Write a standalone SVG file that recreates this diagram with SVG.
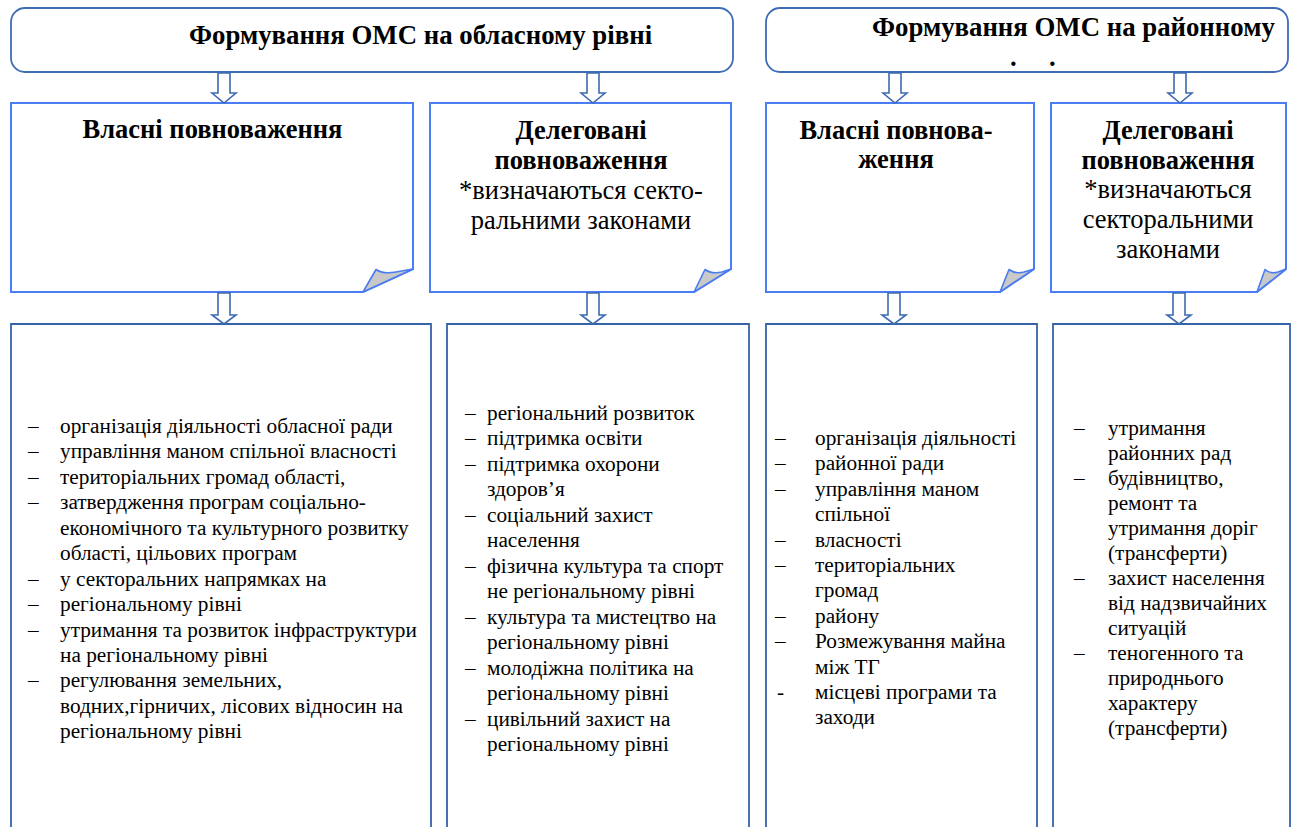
<svg xmlns="http://www.w3.org/2000/svg" width="1293" height="827" viewBox="0 0 1293 827">
<style>
.hdr{fill:#fff;stroke:#3f6db5;stroke-width:1.8}
.note{fill:#fff;stroke:#4a7cf2;stroke-width:2}
.fold{fill:#c9c9c9;stroke:#4a7cf2;stroke-width:1.6;stroke-linejoin:round}
.list{fill:#fff;stroke:#3563a8;stroke-width:1.8}
.arr{fill:#fff;stroke:#3d6bb0;stroke-width:1.6}
text{font-family:'Liberation Serif','DejaVu Serif','Times New Roman',serif;fill:#000}
.ht{font-weight:bold;font-size:26.8px}
.tb{font-weight:bold;font-size:26.5px;text-anchor:middle}
.tr{font-size:26.5px;text-anchor:middle}
.li{font-size:21.3px}
</style>
<rect width="1293" height="827" fill="#fff"/>

<g id="header-oblast">
<rect class="hdr" x="11" y="8" width="722" height="64" rx="14"/>
<text class="ht" x="189" y="44">Формування ОМС на обласному рівні</text>
</g>
<g id="header-raion">
<rect class="hdr" x="766" y="8" width="522" height="64" rx="14"/>
<text class="ht" x="872" y="36">Формування ОМС на районному</text>
<text class="ht"><tspan x="1010" y="66">.</tspan><tspan x="1049" y="66">.</tspan></text>
</g>

<g id="own-oblast">
<path class="note" d="M11,103 H413 V269 L363,292 H11 Z"/>
<path class="fold" d="M363,292 L376,269.5 C380,272.5 387,273.5 396,272 L413,269 Z"/>
<text class="tb" x="212.5" y="138">Власні повноваження</text>
</g>
<g id="deleg-oblast">
<path class="note" d="M430,103 H731 V269 L694,292 H430 Z"/>
<path class="fold" d="M694,292 L705,269.5 C709,272.5 715,273.5 722,272 L731,269 Z"/>
<text class="tb" x="581" y="139">Делеговані</text>
<text class="tb" x="581" y="169">повноваження</text>
<text class="tr" x="581" y="199">*визначаються секто-</text>
<text class="tr" x="581" y="229">ральними законами</text>
</g>
<g id="own-raion">
<path class="note" d="M766,103 H1034 V269 L1000,292 H766 Z"/>
<path class="fold" d="M1000,292 L1009,269.5 C1013,272.5 1018,273.5 1024,272 L1034,269 Z"/>
<text class="tb" x="896" y="139">Власні повнова-</text>
<text class="tb" x="896" y="168">ження</text>
</g>
<g id="deleg-raion">
<path class="note" d="M1051,103 H1286 V269 L1257,292 H1051 Z"/>
<path class="fold" d="M1257,292 L1265,269.5 C1268,272.5 1273,273.5 1278,272 L1286,269 Z"/>
<text class="tb" x="1168" y="139">Делеговані</text>
<text class="tb" x="1168" y="169">повноваження</text>
<text class="tr" x="1168" y="198">*визначаються</text>
<text class="tr" x="1168" y="228">секторальними</text>
<text class="tr" x="1168" y="258">законами</text>
</g>

<g id="list-own-oblast">
<path class="list" d="M11,840 V324 H431 V840"/>
<text class="li">
<tspan x="28" y="432.7">–</tspan><tspan x="60" y="432.7">організація діяльності обласної ради</tspan>
<tspan x="28" y="458.2">–</tspan><tspan x="60" y="458.2">управління маном спільної власності</tspan>
<tspan x="28" y="483.6">–</tspan><tspan x="60" y="483.6">територіальних громад області,</tspan>
<tspan x="28" y="509.1">–</tspan><tspan x="60" y="509.1">затвердження програм соціально-</tspan>
<tspan x="60" y="534.6">економічного та культурного розвитку</tspan>
<tspan x="60" y="560.0">області, цільових програм</tspan>
<tspan x="28" y="585.5">–</tspan><tspan x="60" y="585.5">у секторальних напрямках на</tspan>
<tspan x="28" y="611.0">–</tspan><tspan x="60" y="611.0">регіональному рівні</tspan>
<tspan x="28" y="636.5">–</tspan><tspan x="60" y="636.5">утримання та розвиток інфраструктури</tspan>
<tspan x="60" y="661.9">на регіональному рівні</tspan>
<tspan x="28" y="687.4">–</tspan><tspan x="60" y="687.4">регулювання земельних,</tspan>
<tspan x="60" y="712.9">водних,гірничих, лісових відносин на</tspan>
<tspan x="60" y="738.3">регіональному рівні</tspan>
</text>
</g>
<g id="list-deleg-oblast">
<path class="list" d="M447,840 V324 H749 V840"/>
<text class="li">
<tspan x="465" y="419.5">–</tspan><tspan x="487" y="419.5">регіональний розвиток</tspan>
<tspan x="465" y="445">–</tspan><tspan x="487" y="445">підтримка освіти</tspan>
<tspan x="465" y="470.5">–</tspan><tspan x="487" y="470.5">підтримка охорони</tspan>
<tspan x="487" y="496">здоров’я</tspan>
<tspan x="465" y="521.5">–</tspan><tspan x="487" y="521.5">соціальний захист</tspan>
<tspan x="487" y="547">населення</tspan>
<tspan x="465" y="572.5">–</tspan><tspan x="487" y="572.5">фізична культура та спорт</tspan>
<tspan x="487" y="598">не регіональному рівні</tspan>
<tspan x="465" y="623.5">–</tspan><tspan x="487" y="623.5">культура та мистецтво на</tspan>
<tspan x="487" y="649">регіональному рівні</tspan>
<tspan x="465" y="674.5">–</tspan><tspan x="487" y="674.5">молодіжна політика на</tspan>
<tspan x="487" y="700">регіональному рівні</tspan>
<tspan x="465" y="725.5">–</tspan><tspan x="487" y="725.5">цивільний захист на</tspan>
<tspan x="487" y="751">регіональному рівні</tspan>
</text>
</g>
<g id="list-own-raion">
<path class="list" d="M766,840 V324 H1037 V840"/>
<text class="li">
<tspan x="775" y="445">–</tspan><tspan x="815" y="445">організація діяльності</tspan>
<tspan x="775" y="470.4">–</tspan><tspan x="815" y="470.4">районної ради</tspan>
<tspan x="775" y="495.8">–</tspan><tspan x="815" y="495.8">управління маном</tspan>
<tspan x="815" y="521.2">спільної</tspan>
<tspan x="775" y="546.6">–</tspan><tspan x="815" y="546.6">власності</tspan>
<tspan x="775" y="572">–</tspan><tspan x="815" y="572">територіальних</tspan>
<tspan x="815" y="597.4">громад</tspan>
<tspan x="775" y="622.8">–</tspan><tspan x="815" y="622.8">району</tspan>
<tspan x="775" y="648.2">–</tspan><tspan x="815" y="648.2">Розмежування майна</tspan>
<tspan x="815" y="673.6">між ТГ</tspan>
<tspan x="777" y="699">-</tspan><tspan x="815" y="699">місцеві програми та</tspan>
<tspan x="815" y="724.4">заходи</tspan>
</text>
</g>
<g id="list-deleg-raion">
<path class="list" d="M1053,840 V324 H1290 V840"/>
<text class="li">
<tspan x="1074" y="435">–</tspan><tspan x="1108" y="435">утримання</tspan>
<tspan x="1108" y="460">районних рад</tspan>
<tspan x="1074" y="485">–</tspan><tspan x="1108" y="485">будівництво,</tspan>
<tspan x="1108" y="510">ремонт та</tspan>
<tspan x="1108" y="535">утримання доріг</tspan>
<tspan x="1108" y="560">(трансферти)</tspan>
<tspan x="1074" y="585">–</tspan><tspan x="1108" y="585">захист населення</tspan>
<tspan x="1108" y="610">від надзвичайних</tspan>
<tspan x="1108" y="635">ситуацій</tspan>
<tspan x="1074" y="660">–</tspan><tspan x="1108" y="660">теногенного та</tspan>
<tspan x="1108" y="685">природнього</tspan>
<tspan x="1108" y="710">характеру</tspan>
<tspan x="1108" y="735">(трансферти)</tspan>
</text>
</g>

<g id="connectors">
<path class="arr" d="M218,73 H230 V93 H236 L224,103 L212,93 H218 Z"/>
<path class="arr" d="M587,73 H599 V93 H605 L593,103 L581,93 H587 Z"/>
<path class="arr" d="M889,73 H901 V93 H907 L895,103 L883,93 H889 Z"/>
<path class="arr" d="M1174,73 H1186 V93 H1192 L1180,103 L1168,93 H1174 Z"/>
<path class="arr" d="M218,293 H230 V315 H236 L224,324 L212,315 H218 Z"/>
<path class="arr" d="M587,293 H599 V315 H605 L593,324 L581,315 H587 Z"/>
<path class="arr" d="M888,293 H900 V315 H906 L894,324 L882,315 H888 Z"/>
<path class="arr" d="M1173,293 H1185 V315 H1191 L1179,324 L1167,315 H1173 Z"/>
</g>
</svg>
